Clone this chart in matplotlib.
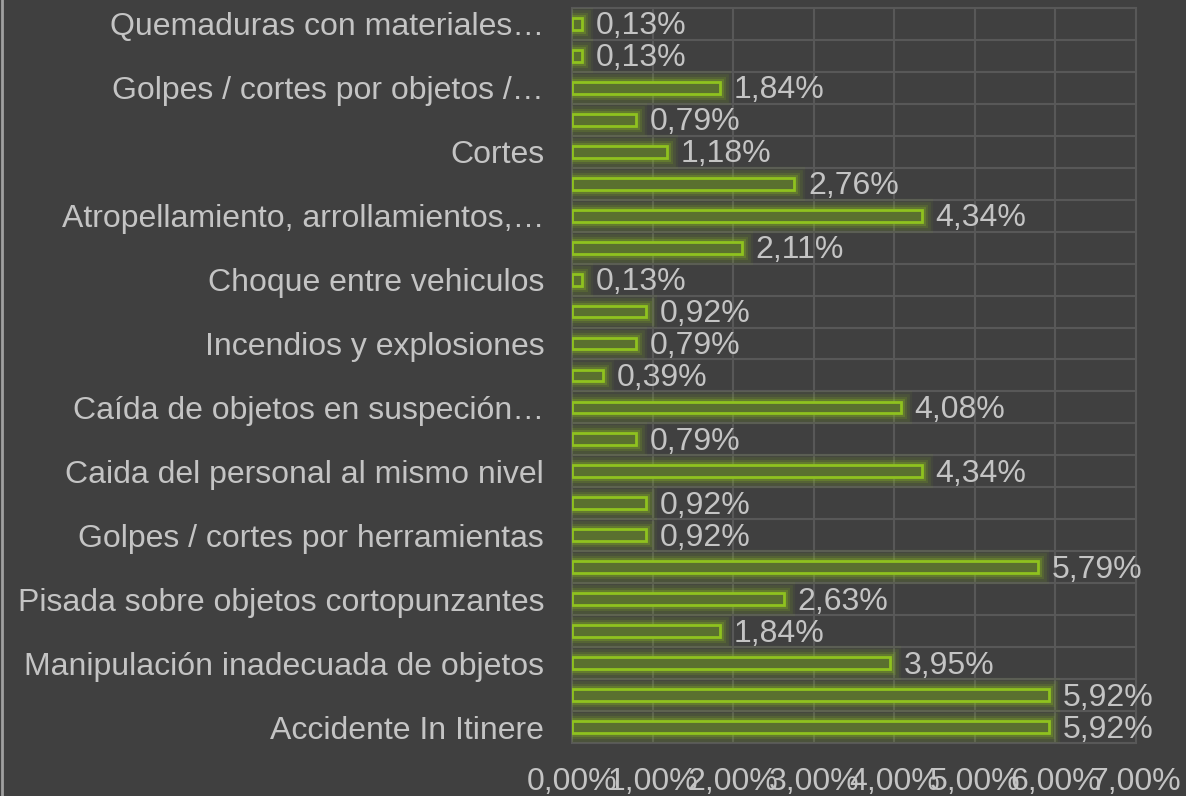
import matplotlib.pyplot as plt
import matplotlib.patheffects as pe
import numpy as np

# categories from bottom to top ('' = no label shown on the axis)
categorias = ['Accidente In Itinere', '', 'Manipulación inadecuada de objetos', '',
              'Pisada sobre objetos cortopunzantes', '', 'Golpes / cortes por herramientas', '',
              'Caida del personal al mismo nivel', '', 'Caída de objetos en suspeción…', '',
              'Incendios y explosiones', '', 'Choque entre vehiculos', '',
              'Atropellamiento, arrollamientos,…', '', 'Cortes', '',
              'Golpes / cortes por objetos /…', '', 'Quemaduras con materiales…']
valores = [5.92, 5.92, 3.95, 1.84, 2.63, 5.79, 0.92, 0.92, 4.34, 0.79, 4.08, 0.39,
           0.79, 0.92, 0.13, 2.11, 4.34, 2.76, 1.18, 0.79, 1.84, 0.13, 0.13]
ticks_x = [0, 1, 2, 3, 4, 5, 6, 7]

bg = '#404040'
txt = '#c4c4c4'
grid = '#585858'
verde = '#8fc21f'

plt.rcParams['font.family'] = ['Liberation Sans', 'DejaVu Sans']

fig = plt.figure(figsize=(11.86, 7.96), dpi=100, facecolor=bg)
ax = fig.add_axes([0.4823, 0.0666, 0.4755, 0.9234])
ax.set_facecolor(bg)

y = np.arange(len(valores))
bars = ax.barh(y, valores, height=0.37, color='#5a702f', edgecolor=verde, linewidth=2, zorder=3)
# soft glow around the bars
for b in bars:
    b.set_path_effects([pe.Stroke(linewidth=16, foreground=verde, alpha=0.06),
                        pe.Stroke(linewidth=12, foreground=verde, alpha=0.1),
                        pe.Stroke(linewidth=8, foreground=verde, alpha=0.15),
                        pe.Stroke(linewidth=5, foreground=verde, alpha=0.25),
                        pe.Normal()])

for yi, v in zip(y, valores):
    ax.text(v + 0.17, yi - 0.08, ('%.2f%%' % v).replace('.', ','), va='center', ha='left',
            color=txt, fontsize=23, zorder=4)

ax.set_xlim(0, 7)
ax.set_ylim(-0.5, len(valores) - 0.5)
ax.set_xticks(ticks_x)
ax.set_xticklabels([('%.2f%%' % t).replace('.', ',') for t in ticks_x], fontsize=23, color=txt)
ax.set_yticks(y)
ax.set_yticklabels(categorias, fontsize=23, color=txt)
ax.tick_params(length=0)
ax.tick_params(axis='x', pad=17)
ax.tick_params(axis='y', pad=20)

ax.set_yticks(np.arange(-0.5, len(valores), 1), minor=True)
ax.tick_params(which='minor', length=0)
ax.grid(axis='x', color=grid, linewidth=1.5, zorder=0)
ax.grid(axis='y', which='minor', color=grid, linewidth=1.5, zorder=0)
ax.grid(axis='y', which='major', visible=False)
for s in ax.spines.values():
    s.set_color(grid)
    s.set_linewidth(1.5)

fig.add_artist(plt.Line2D([0.002, 0.002], [0, 1], color='#a0a0a0', linewidth=2))

fig.savefig('out.png', dpi=100, facecolor=bg)
